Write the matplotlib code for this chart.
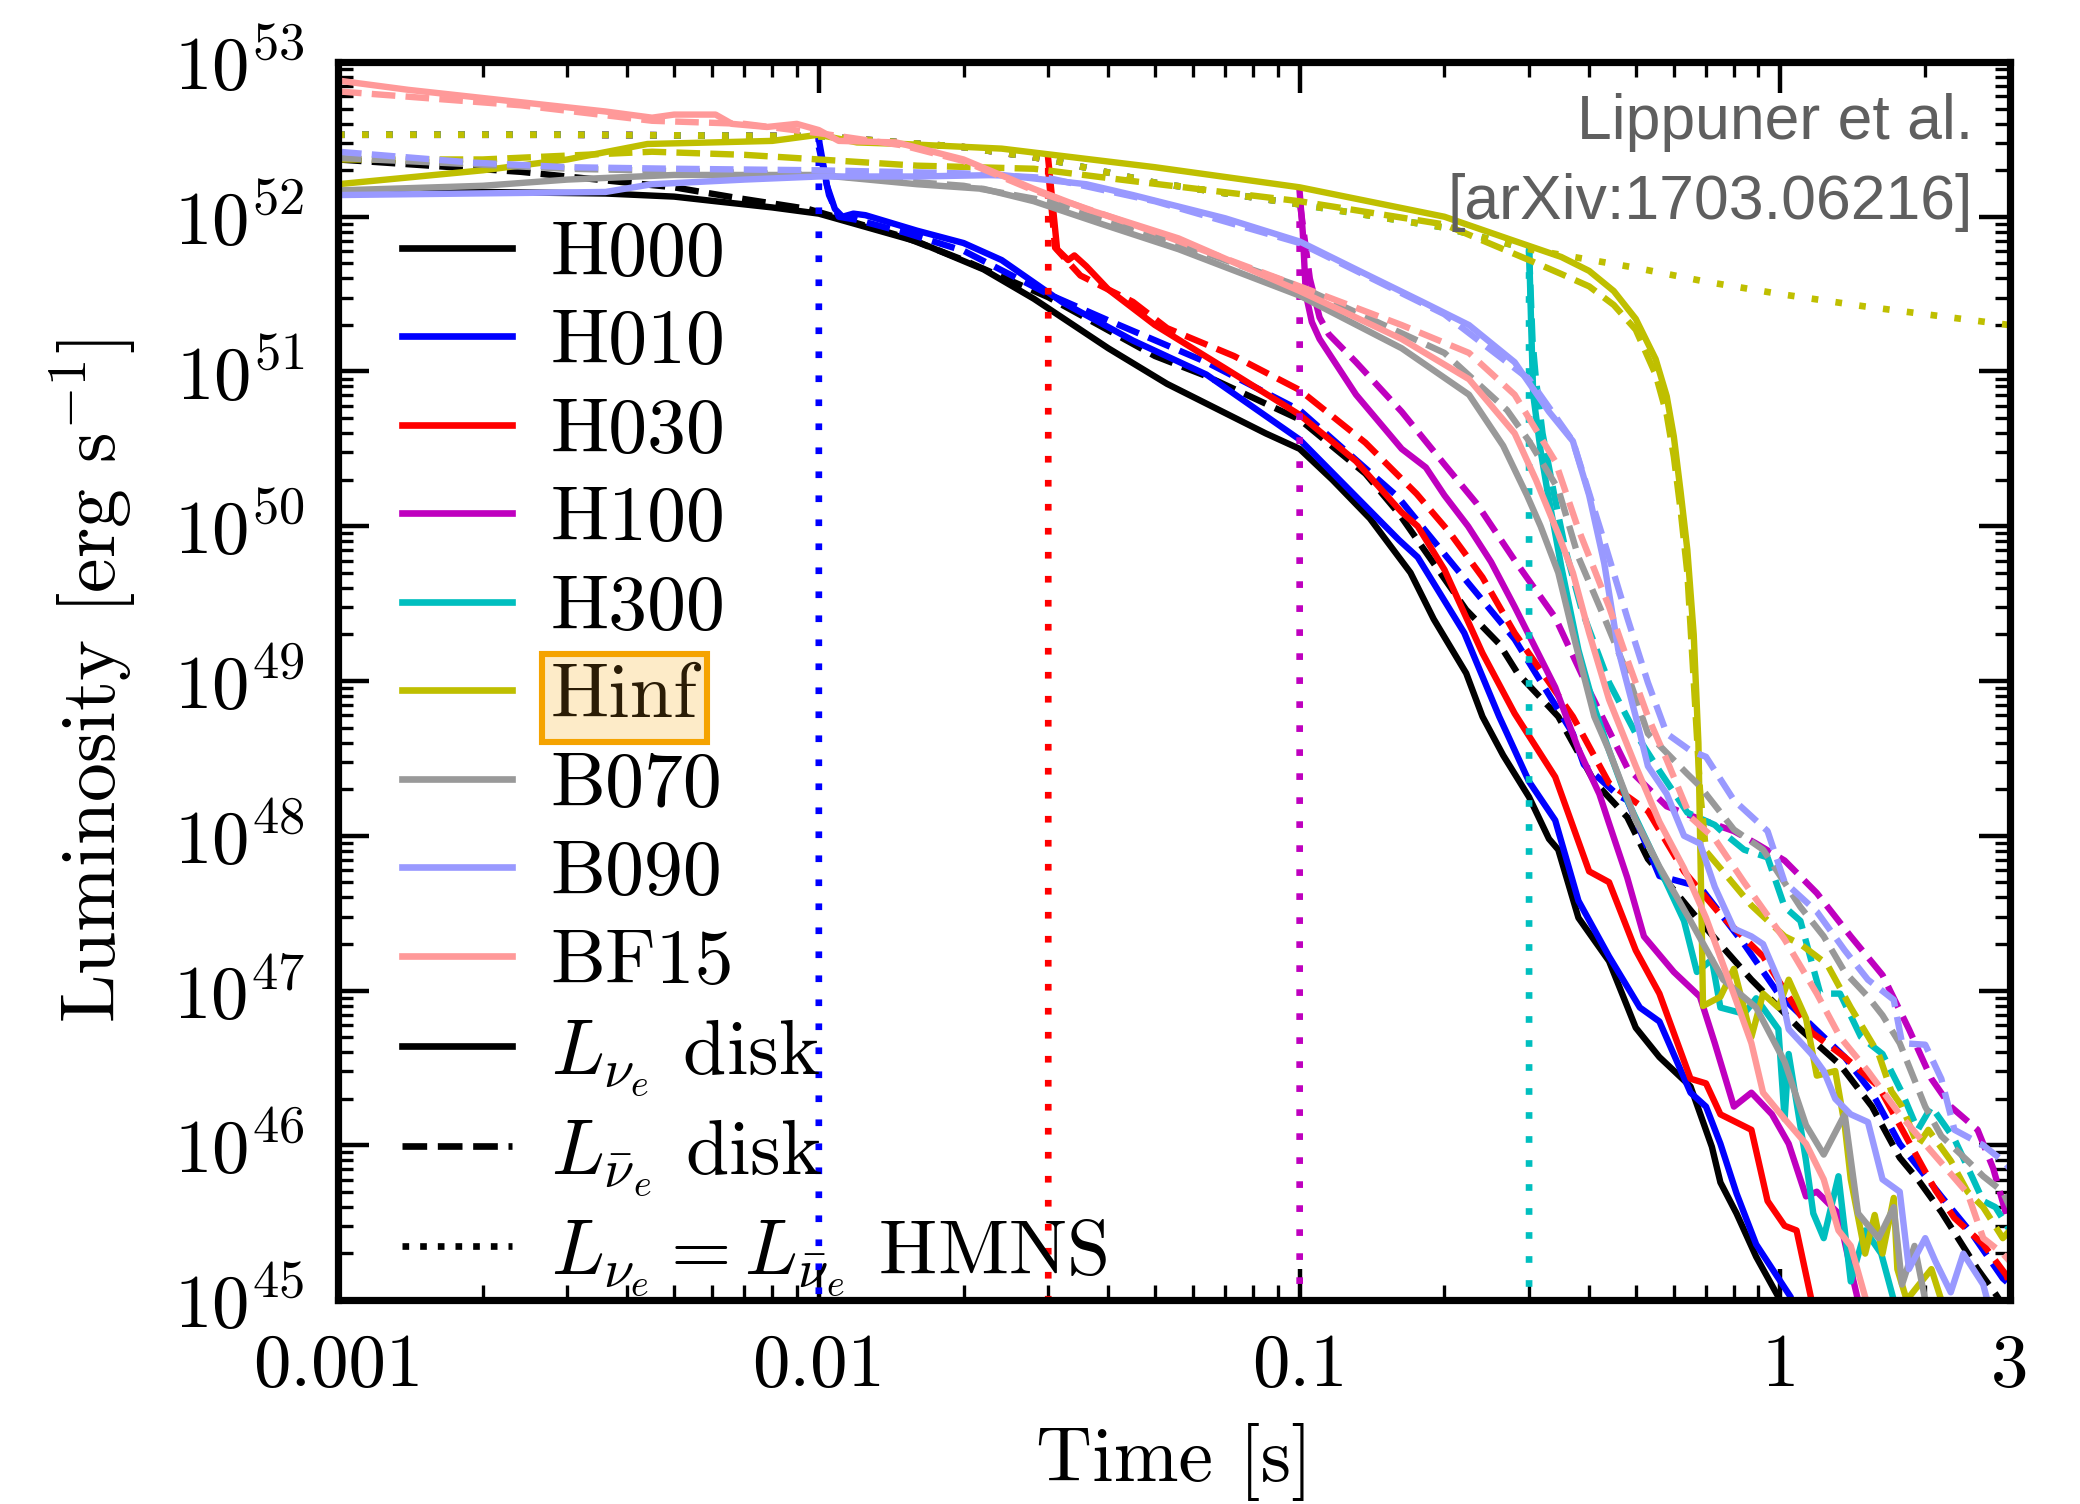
import numpy as np
import matplotlib.pyplot as plt
from matplotlib.lines import Line2D
from matplotlib.ticker import FixedLocator, FixedFormatter, LogLocator, NullFormatter

plt.rcParams['font.family'] = 'serif'
plt.rcParams['font.serif'] = ['cmr10']
plt.rcParams['mathtext.fontset'] = 'cm'
plt.rcParams['axes.unicode_minus'] = False
plt.rcParams['axes.formatter.use_mathtext'] = True

models = ['H000', 'H010', 'H030', 'H100', 'H300', 'Hinf', 'B070', 'B090', 'BF15']
colors = ['k', '#0000ff', '#ff0000', '#bf00bf', '#00bfbf', '#bfbf00', '#999999', '#9999ff', '#ff9999']
# HMNS lifetime [s]: None = no HMNS curve, np.inf = never collapses
t_collapse = [None, 0.01, 0.03, 0.1, 0.3, np.inf, None, None, None]

# HMNS luminosity (log10 erg/s)
t_hmns = [0.001, 0.003, 0.01, 0.02, 0.03, 0.05, 0.1, 0.2, 0.3, 0.5, 0.7, 1.0, 1.5, 2.0, 3.0]
lg_hmns = [52.53, 52.53, 52.52, 52.45, 52.37, 52.22, 52.08, 51.93, 51.79, 51.67, 51.58, 51.50, 51.42, 51.37, 51.30]

# disk luminosities, log10 L [erg/s]; "e" = nu_e, "a" = anti nu_e
t_H000_e = [0.001, 0.002, 0.0036, 0.005, 0.0061, 0.008, 0.01, 0.016, 0.022, 0.028, 0.04, 0.053, 0.085, 0.1, 0.117,
            0.14, 0.17, 0.19, 0.222, 0.24, 0.265, 0.3, 0.33, 0.345, 0.38, 0.44, 0.5, 0.56, 0.65, 0.72, 0.75, 0.81,
            0.89, 0.99, 1.08]
lg_H000_e = [52.15, 52.16, 52.15, 52.13, 52.10, 52.06, 52.02, 51.84, 51.66, 51.47, 51.15, 50.92, 50.60, 50.50, 50.30,
             50.05, 49.70, 49.40, 49.05, 48.77, 48.52, 48.25, 47.98, 47.91, 47.47, 47.19, 46.76, 46.57, 46.38, 45.99,
             45.76, 45.56, 45.28, 45.02, 44.7]
t_H000_a = [0.001, 0.0024, 0.005, 0.0068, 0.0095, 0.015, 0.02, 0.03, 0.05, 0.064, 0.1, 0.137, 0.161, 0.222, 0.26,
            0.284, 0.345, 0.41, 0.48, 0.53, 0.6, 0.67, 0.87, 1.1, 1.33, 1.55, 1.77, 1.93, 2.16, 2.57, 2.8, 3.0]
lg_H000_a = [52.37, 52.29, 52.19, 52.12, 52.05, 51.87, 51.72, 51.48, 51.10, 50.97, 50.69, 50.34, 50.08, 49.46, 49.24,
             49.05, 48.77, 48.35, 48.12, 47.85, 47.65, 47.47, 47.07, 46.75, 46.52, 46.25, 45.92, 45.78, 45.57, 45.20,
             45.04, 44.9]

t_H010_e = [0.01, 0.0104, 0.0108, 0.0112, 0.0118, 0.0125, 0.016, 0.02, 0.024, 0.032, 0.045, 0.064, 0.1, 0.161,
            0.176, 0.22, 0.26, 0.27, 0.3, 0.34, 0.38, 0.44, 0.51, 0.56, 0.65, 0.7, 0.75, 0.81, 0.89, 1.05, 1.12]
lg_H010_e = [52.50, 52.20, 52.05, 52.00, 52.02, 52.01, 51.91, 51.83, 51.72, 51.45, 51.20, 50.98, 50.56, 49.91,
             49.80, 49.31, 48.77, 48.66, 48.35, 48.10, 47.58, 47.22, 46.89, 46.80, 46.34, 46.25, 46.01, 45.69,
             45.36, 45.02, 44.7]
t_H010_a = [0.01, 0.0105, 0.011, 0.012, 0.015, 0.02, 0.03, 0.04, 0.064, 0.1, 0.16, 0.21, 0.28, 0.37, 0.39, 0.46,
            0.48, 0.56, 0.68, 0.84, 0.99, 1.23, 1.36, 1.55, 1.77, 2.16, 2.5, 2.9, 3.0]
lg_H010_a = [52.45, 52.14, 52.00, 51.98, 51.90, 51.78, 51.50, 51.33, 51.06, 50.75, 50.19, 49.74, 49.27, 48.66, 48.46,
             48.26, 48.23, 47.74, 47.67, 47.30, 46.98, 46.70, 46.57, 46.34, 46.01, 45.67, 45.43, 45.14, 45.1]

t_H030_e = [0.03, 0.0313, 0.033, 0.034, 0.036, 0.04, 0.05, 0.07, 0.1, 0.131, 0.163, 0.176, 0.2, 0.24, 0.28, 0.34,
            0.40, 0.44, 0.50, 0.56, 0.65, 0.70, 0.75, 0.87, 0.94, 1.02, 1.08, 1.16, 1.2]
lg_H030_e = [52.37, 51.79, 51.72, 51.75, 51.68, 51.53, 51.30, 51.02, 50.72, 50.42, 50.09, 50.00, 49.72, 49.18, 48.79,
             48.38, 47.77, 47.70, 47.26, 46.98, 46.43, 46.40, 46.20, 46.10, 45.64, 45.48, 45.45, 45.0, 44.7]
t_H030_a = [0.03, 0.031, 0.035, 0.045, 0.053, 0.073, 0.1, 0.137, 0.175, 0.205, 0.24, 0.28, 0.37, 0.44, 0.53, 0.63,
            0.75, 0.92, 1.16, 1.36, 1.6, 1.77, 2.1, 2.3, 2.64, 2.95, 3.0]
lg_H030_a = [52.30, 51.80, 51.62, 51.45, 51.28, 51.10, 50.88, 50.54, 50.21, 49.96, 49.67, 49.31, 48.77, 48.34, 48.16,
             47.77, 47.49, 47.22, 46.73, 46.57, 46.38, 46.13, 45.71, 45.53, 45.36, 45.16, 45.1]

t_H100_e = [0.1, 0.1015, 0.103, 0.106, 0.11, 0.131, 0.163, 0.183, 0.2, 0.224, 0.25, 0.28, 0.34, 0.38, 0.42, 0.44,
            0.48, 0.52, 0.60, 0.68, 0.73, 0.80, 0.87, 0.96, 1.04, 1.13, 1.19, 1.32, 1.4, 1.5]
lg_H100_e = [52.16, 51.90, 51.50, 51.32, 51.21, 50.85, 50.50, 50.38, 50.20, 50.00, 49.77, 49.48, 48.96, 48.56, 48.27,
             48.08, 47.73, 47.35, 47.12, 46.96, 46.66, 46.25, 46.34, 46.20, 46.01, 45.67, 45.70, 45.56, 45.2, 44.8]
t_H100_a = [0.1, 0.105, 0.11, 0.115, 0.131, 0.163, 0.2, 0.233, 0.28, 0.34, 0.40, 0.48, 0.58, 0.69, 0.8, 0.89, 1.02,
            1.19, 1.4, 1.63, 1.85, 2.06, 2.26, 2.57, 2.77, 2.95, 3.0]
lg_H100_a = [52.10, 51.60, 51.35, 51.24, 51.06, 50.74, 50.40, 50.15, 49.78, 49.41, 48.94, 48.44, 48.19, 48.10, 48.03,
             47.95, 47.84, 47.63, 47.35, 47.10, 46.75, 46.43, 46.25, 46.10, 45.85, 45.55, 45.5]

t_H300_e = [0.3, 0.303, 0.306, 0.317, 0.327, 0.35, 0.38, 0.41, 0.44, 0.48, 0.53, 0.58, 0.63, 0.67, 0.72, 0.75,
            0.84, 0.89, 0.99, 1.02, 1.04, 1.13, 1.17, 1.23, 1.32, 1.4, 1.5, 1.62, 1.72, 1.8]
lg_H300_e = [51.80, 51.30, 50.85, 50.49, 50.24, 49.74, 49.20, 48.83, 48.55, 48.23, 47.95, 47.69, 47.45, 47.12, 47.20,
             46.89, 46.85, 46.95, 46.75, 46.17, 46.59, 45.90, 45.56, 45.40, 45.80, 45.12, 45.45, 45.30, 45.0, 44.7]
t_H300_a = [0.3, 0.305, 0.31, 0.32, 0.34, 0.357, 0.386, 0.44, 0.50, 0.56, 0.64, 0.73, 0.76, 0.84, 0.94, 1.02, 1.1,
            1.21, 1.33, 1.47, 1.63, 1.79, 1.93, 2.06, 2.3, 2.5, 2.64, 2.8, 3.0]
lg_H300_a = [51.78, 51.20, 50.95, 50.60, 50.17, 49.85, 49.46, 48.99, 48.66, 48.42, 48.15, 48.07, 48.02, 47.91, 47.86,
             47.54, 47.45, 46.98, 46.98, 46.70, 46.59, 46.34, 46.10, 46.25, 46.04, 45.80, 45.64, 45.60, 45.45]

t_Hinf_e = [0.001, 0.002, 0.003, 0.0044, 0.006, 0.008, 0.01, 0.012, 0.015, 0.024, 0.05, 0.1, 0.2, 0.27, 0.35, 0.4,
            0.45, 0.5, 0.55, 0.58, 0.6, 0.62, 0.64, 0.66, 0.675, 0.685, 0.69, 0.75, 0.80, 0.87, 0.92, 0.99, 1.04,
            1.13, 1.19, 1.3, 1.36, 1.4, 1.5, 1.57, 1.63, 1.72, 1.75, 1.83, 2.06, 2.16, 2.3]
lg_Hinf_e = [52.21, 52.30, 52.37, 52.47, 52.48, 52.49, 52.53, 52.48, 52.47, 52.44, 52.32, 52.19, 52.00, 51.86, 51.74,
             51.65, 51.52, 51.34, 51.08, 50.84, 50.58, 50.22, 49.85, 49.30, 48.60, 47.50, 46.90, 46.96, 47.14, 46.70,
             46.98, 46.89, 47.07, 46.82, 46.45, 46.48, 46.13, 45.78, 45.30, 45.55, 45.30, 45.66, 45.20, 45.00, 45.20,
             45.00, 44.7]
t_Hinf_a = [0.001, 0.002, 0.0045, 0.007, 0.01, 0.016, 0.028, 0.045, 0.1, 0.2, 0.3, 0.35, 0.4, 0.45, 0.5, 0.55, 0.58,
            0.6, 0.62, 0.64, 0.66, 0.68, 0.7, 0.75, 0.87, 1.02, 1.1, 1.25, 1.4, 1.6, 1.7, 1.79, 1.93, 2.03, 2.26,
            2.45, 2.64, 2.9, 3.0]
lg_Hinf_a = [52.37, 52.37, 52.42, 52.40, 52.37, 52.33, 52.31, 52.23, 52.10, 51.95, 51.72, 51.63, 51.55, 51.43, 51.27,
             50.98, 50.72, 50.45, 50.10, 49.70, 49.00, 48.30, 47.90, 47.79, 47.55, 47.35, 47.30, 47.17, 46.89, 46.59,
             46.35, 46.25, 46.00, 46.10, 45.90, 45.70, 45.60, 45.40, 45.45]

t_B070_e = [0.001, 0.002, 0.003, 0.005, 0.01, 0.016, 0.022, 0.028, 0.039, 0.056, 0.1, 0.163, 0.225, 0.265, 0.297,
            0.317, 0.345, 0.37, 0.41, 0.44, 0.5, 0.56, 0.65, 0.76, 0.89, 1.02, 1.13, 1.23, 1.36, 1.45, 1.6, 1.72,
            1.79, 1.9, 2.0, 2.1]
lg_B070_e = [52.17, 52.20, 52.24, 52.27, 52.27, 52.21, 52.18, 52.10, 51.95, 51.79, 51.49, 51.15, 50.85, 50.52, 50.20,
             50.00, 49.70, 49.31, 48.77, 48.55, 48.10, 47.80, 47.45, 47.07, 46.89, 46.54, 46.13, 45.94, 46.20, 45.56,
             45.40, 45.60, 45.10, 45.35, 45.00, 44.7]
t_B070_a = [0.001, 0.003, 0.006, 0.01, 0.02, 0.03, 0.05, 0.1, 0.2, 0.27, 0.3, 0.345, 0.38, 0.43, 0.48, 0.53, 0.64,
            0.68, 0.8, 0.92, 1.1, 1.23, 1.36, 1.52, 1.63, 1.77, 2.0, 2.16, 2.45, 2.64, 2.9, 3.0]
lg_B070_a = [52.38, 52.31, 52.29, 52.27, 52.20, 52.10, 51.88, 51.55, 51.12, 50.75, 50.55, 50.24, 49.80, 49.41, 49.05,
             48.66, 48.40, 48.32, 48.04, 47.91, 47.54, 47.35, 47.12, 46.96, 46.84, 46.66, 46.25, 46.06, 45.90, 45.80,
             45.70, 45.60]

t_B090_e = [0.001, 0.0036, 0.0045, 0.007, 0.01, 0.016, 0.024, 0.036, 0.045, 0.07, 0.1, 0.131, 0.18, 0.225, 0.28,
            0.33, 0.37, 0.4, 0.43, 0.46, 0.5, 0.53, 0.58, 0.63, 0.68, 0.73, 0.8, 0.87, 0.92, 0.99, 1.04, 1.16, 1.23,
            1.3, 1.4, 1.52, 1.63, 1.77, 1.85, 2.0, 2.1, 2.26, 2.4, 2.64, 2.8]
lg_B090_e = [52.14, 52.16, 52.21, 52.24, 52.26, 52.26, 52.27, 52.21, 52.14, 51.99, 51.84, 51.66, 51.45, 51.30, 51.06,
             50.74, 50.55, 50.20, 49.76, 49.20, 48.77, 48.45, 48.27, 48.00, 47.95, 47.67, 47.40, 47.35, 47.30, 47.07,
             46.75, 46.59, 46.48, 46.30, 46.20, 46.15, 45.78, 45.70, 45.20, 45.40, 45.25, 45.05, 45.30, 45.10, 44.8]
t_B090_a = [0.001, 0.0019, 0.003, 0.005, 0.01, 0.02, 0.03, 0.05, 0.1, 0.2, 0.3, 0.37, 0.43, 0.48, 0.53, 0.58, 0.65,
            0.7, 0.8, 0.94, 1.02, 1.19, 1.36, 1.52, 1.72, 1.79, 2.0, 2.16, 2.3, 2.64, 2.9, 3.0]
lg_B090_a = [52.42, 52.35, 52.32, 52.31, 52.30, 52.28, 52.25, 52.10, 51.83, 51.37, 50.95, 50.55, 49.90, 49.41, 48.99,
             48.66, 48.55, 48.51, 48.23, 48.03, 47.70, 47.51, 47.26, 47.07, 46.94, 46.66, 46.65, 46.43, 46.10, 46.00,
             45.90, 45.85]

t_BF15_e = [0.001, 0.0014, 0.0024, 0.0036, 0.0045, 0.005, 0.0061, 0.0066, 0.0078, 0.009, 0.01, 0.011, 0.0145, 0.02,
            0.028, 0.036, 0.056, 0.1, 0.163, 0.225, 0.28, 0.31, 0.345, 0.37, 0.40, 0.44, 0.5, 0.56, 0.63, 0.7, 0.78,
            0.87, 0.92, 1.02, 1.13, 1.23, 1.32, 1.4, 1.5, 1.6]
lg_BF15_e = [52.88, 52.82, 52.74, 52.68, 52.64, 52.66, 52.66, 52.60, 52.58, 52.60, 52.56, 52.49, 52.48, 52.37, 52.18,
             52.05, 51.86, 51.52, 51.21, 50.95, 50.60, 50.30, 49.95, 49.70, 49.31, 48.88, 48.45, 48.09, 47.79, 47.47,
             47.07, 46.66, 46.34, 46.17, 46.01, 45.78, 45.45, 45.35, 45.02, 44.8]
t_BF15_a = [0.001, 0.0024, 0.0045, 0.007, 0.01, 0.015, 0.02, 0.028, 0.05, 0.1, 0.163, 0.225, 0.28, 0.34, 0.38, 0.44,
            0.48, 0.53, 0.58, 0.65, 0.73, 0.84, 1.02, 1.19, 1.33, 1.52, 1.77, 2.06, 2.45, 2.64, 2.9, 3.0]
lg_BF15_a = [52.81, 52.72, 52.62, 52.60, 52.54, 52.46, 52.36, 52.17, 51.90, 51.55, 51.30, 51.12, 50.85, 50.42, 49.98,
             49.48, 49.14, 48.77, 48.49, 48.12, 47.98, 47.70, 47.33, 46.98, 46.70, 46.48, 46.20, 45.96, 45.69, 45.40,
             45.30, 45.25]

t_nue = [t_H000_e, t_H010_e, t_H030_e, t_H100_e, t_H300_e, t_Hinf_e, t_B070_e, t_B090_e, t_BF15_e]
lg_nue = [lg_H000_e, lg_H010_e, lg_H030_e, lg_H100_e, lg_H300_e, lg_Hinf_e, lg_B070_e, lg_B090_e, lg_BF15_e]
t_nuebar = [t_H000_a, t_H010_a, t_H030_a, t_H100_a, t_H300_a, t_Hinf_a, t_B070_a, t_B090_a, t_BF15_a]
lg_nuebar = [lg_H000_a, lg_H010_a, lg_H030_a, lg_H100_a, lg_H300_a, lg_Hinf_a, lg_B070_a, lg_B090_a, lg_BF15_a]

dot = (0, (1.0, 2.6))
lw = 2.3

fig = plt.figure(figsize=(10.4, 7.52), dpi=200)
ax = fig.add_axes([0.1625, 0.1356, 0.8038, 0.8232])

th = np.array(t_hmns)
lh = np.array(lg_hmns)
for i, m in enumerate(models):
    c = colors[i]
    ax.plot(t_nue[i], 10**np.array(lg_nue[i]), color=c, lw=lw, ls='-')
    ax.plot(t_nuebar[i], 10**np.array(lg_nuebar[i]), color=c, lw=lw, ls='--')
    tc = t_collapse[i]
    if tc is None:
        continue
    keep = th <= tc
    tt = list(th[keep])
    ll = list(10**lh[keep])
    if np.isfinite(tc):
        tt.append(tc)
        ll.append(1e40)
    ax.plot(tt, ll, color=c, lw=2.4, ls=dot)

ax.set_xscale('log')
ax.set_yscale('log')
ax.set_xlim(0.001, 3)
ax.set_ylim(1e45, 1e53)

xt = [0.001, 0.01, 0.1, 1, 3]
ax.xaxis.set_major_locator(FixedLocator(xt))
ax.xaxis.set_major_formatter(FixedFormatter(['0.001', '0.01', '0.1', '1', '3']))
ax.xaxis.set_minor_locator(LogLocator(base=10, subs=np.arange(2, 10), numticks=20))
ax.xaxis.set_minor_formatter(NullFormatter())
ax.yaxis.set_major_locator(LogLocator(base=10, numticks=20))
ax.yaxis.set_minor_locator(LogLocator(base=10, subs=np.arange(2, 10), numticks=20))
ax.yaxis.set_minor_formatter(NullFormatter())

ax.tick_params(which='both', direction='in', top=True, right=True)
ax.tick_params(which='major', length=11, width=1.6, labelsize=27, pad=12)
ax.tick_params(which='minor', length=5.5, width=1.2)
for s in ax.spines.values():
    s.set_linewidth(2.6)

ax.set_xlabel('Time [s]', fontsize=28, labelpad=8)
ax.set_ylabel(r'Luminosity [erg s$^{-1}$]', fontsize=28, labelpad=12)

handles = [Line2D([], [], color=c, lw=2.4) for c in colors]
handles += [Line2D([], [], color='k', lw=2.4, ls='-'),
            Line2D([], [], color='k', lw=2.4, ls='--'),
            Line2D([], [], color='k', lw=2.4, ls=':')]
labels = models + [r'$L_{\nu_e}$ disk', r'$L_{\bar{\nu}_e}$ disk', r'$L_{\nu_e} = L_{\bar{\nu}_e}$ HMNS']
leg = ax.legend(handles, labels, loc='upper left', bbox_to_anchor=(0.038, 0.872), frameon=False,
                fontsize=28, handlelength=1.42, handletextpad=0.5, labelspacing=0.245,
                borderpad=0, borderaxespad=0)
hl = leg.get_texts()[5]
hl.set_color('#2a1c06')
hl.set_bbox(dict(boxstyle='square,pad=0.12', facecolor='#fdebc8', edgecolor='#f5a300', linewidth=2.2))

ax.text(0.978, 0.975, 'Lippuner et al.\n[arXiv:1703.06216]', transform=ax.transAxes,
        ha='right', va='top', multialignment='right', fontsize=22.5, color='#5f5f5f',
        family='Liberation Sans', linespacing=1.45)

plt.savefig('out.png', dpi=200)
